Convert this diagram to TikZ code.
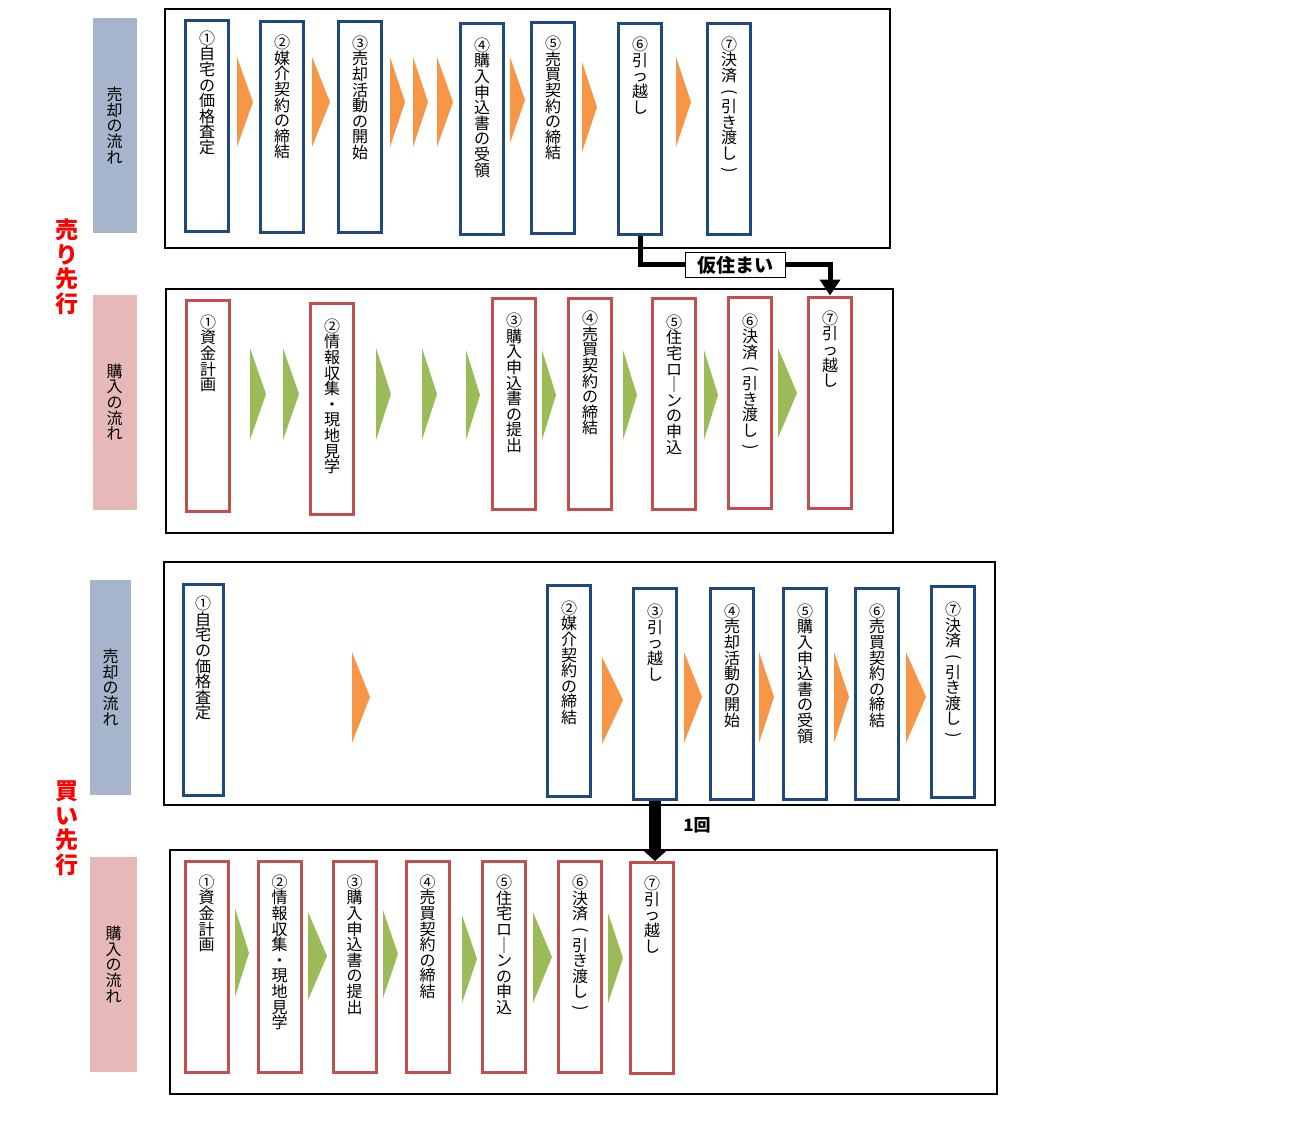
\documentclass[tikz,border=0pt]{standalone}
\usepackage{fontspec}
\setmainfont{Noto Sans CJK JP}
\usetikzlibrary{arrows.meta}
\definecolor{sellblue}{RGB}{31,73,125}
\definecolor{sellfill}{RGB}{166,181,204}
\definecolor{buyred}{RGB}{192,80,77}
\definecolor{buyfill}{RGB}{230,185,184}
\definecolor{chevorange}{RGB}{247,150,70}
\definecolor{chevgreen}{RGB}{155,187,89}
\newcommand{\vlparen}{\rotatebox[origin=c]{-90}{(}}
\newcommand{\vrparen}{\rotatebox[origin=c]{-90}{)}}
\lineskiplimit=-20pt

\begin{document}
\begin{tikzpicture}[x=1pt,y=-1pt,
    frame/.style={draw=black,line width=1.2pt},
    head/.style={minimum width=44pt,minimum height=215pt,inner sep=0pt,align=center,font=\fontsize{16}{15.6}\selectfont},
    sellbox/.style={draw=sellblue,fill=white,line width=3pt,minimum width=43pt,minimum height=211pt,inner sep=0pt},
    buybox/.style={draw=buyred,fill=white,line width=3pt,minimum width=43pt,minimum height=211pt,inner sep=0pt},
    steptext/.style={anchor=north,inner sep=0pt,align=center,font=\fontsize{16}{15.6}\selectfont},
    title/.style={text=red,align=center,inner sep=0pt,font=\bfseries\fontsize{23}{24.5}\selectfont}]
    \useasboundingbox (0,0) rectangle (1302,1136);

    %% titles
    \node[title] (urisaki) at (67,267) {売\\り\\先\\行};
    \node[title] (kaisaki) at (67,828) {買\\い\\先\\行};

    %% frames
    \draw[frame] (165,9) rectangle (890,248);
    \draw[frame] (166,289) rectangle (893,533);
    \draw[frame] (164,562) rectangle (995,805);
    \draw[frame] (170,850) rectangle (997,1094);

    %% row headers
    \node[head,fill=sellfill] (hA) at (114.5,125.5) {売\\却\\の\\流\\れ};
    \node[head,fill=buyfill] (hB) at (114.5,402) {購\\入\\の\\流\\れ};
    \node[head,fill=sellfill,minimum width=41pt] (hC) at (110.5,687.5) {売\\却\\の\\流\\れ};
    \node[head,fill=buyfill,minimum width=47pt] (hD) at (113.5,964.5) {購\\入\\の\\流\\れ};

    %% sell first: sale
    \node[sellbox] (a1) at (207,125.5) {};
    \node[sellbox] (a2) at (282,127) {};
    \node[sellbox] (a3) at (360,126.5) {};
    \node[sellbox] (a4) at (482,128.5) {};
    \node[sellbox] (a5) at (553,128) {};
    \node[sellbox] (a6) at (640,129) {};
    \node[sellbox] (a7) at (729,128.5) {};
    \node[steptext] (ta1) at ([yshift=-12pt]a1.north) {①\\自\\宅\\の\\価\\格\\査\\定};
    \node[steptext] (ta2) at ([yshift=-15pt]a2.north) {②\\媒\\介\\契\\約\\の\\締\\結};
    \node[steptext] (ta3) at ([yshift=-16pt]a3.north) {③\\売\\却\\活\\動\\の\\開\\始};
    \node[steptext] (ta4) at ([yshift=-16pt]a4.north) {④\\購\\入\\申\\込\\書\\の\\受\\領};
    \node[steptext] (ta5) at ([yshift=-15pt]a5.north) {⑤\\売\\買\\契\\約\\の\\締\\結};
    \node[steptext] (ta6) at ([yshift=-15pt]a6.north) {⑥\\引\\っ\\越\\し};
    \node[steptext] (ta7) at ([yshift=-15pt]a7.north) {⑦\\決\\済\\\vlparen\\引\\き\\渡\\し\\\vrparen};
    \fill[chevorange] (237,57) -- (253,102) -- (237,147) -- cycle;
    \fill[chevorange] (312,57) -- (330,102) -- (312,147) -- cycle;
    \fill[chevorange] (390,57) -- (405,102) -- (390,147) -- cycle;
    \fill[chevorange] (413,57) -- (428,102) -- (413,147) -- cycle;
    \fill[chevorange] (437,57) -- (453,102) -- (437,147) -- cycle;
    \fill[chevorange] (510,57) -- (525,100) -- (510,143) -- cycle;
    \fill[chevorange] (582,62) -- (597,107) -- (582,152) -- cycle;
    \fill[chevorange] (676,57) -- (691,102) -- (676,147) -- cycle;

    %% sell first: purchase
    \node[buybox] (b1) at (208,405.5) {};
    \node[buybox] (b2) at (332,408.5) {};
    \node[buybox] (b3) at (514,404) {};
    \node[buybox] (b4) at (590,404) {};
    \node[buybox] (b5) at (674,403.5) {};
    \node[buybox] (b6) at (750,402.5) {};
    \node[buybox] (b7) at (830,402.5) {};
    \node[steptext] (tb1) at ([yshift=-16pt]b1.north) {①\\資\\金\\計\\画};
    \node[steptext] (tb2) at ([yshift=-17pt]b2.north) {②\\情\\報\\収\\集\\・\\現\\地\\見\\学};
    \node[steptext] (tb3) at ([yshift=-16pt]b3.north) {③\\購\\入\\申\\込\\書\\の\\提\\出};
    \node[steptext] (tb4) at ([yshift=-14pt]b4.north) {④\\売\\買\\契\\約\\の\\締\\結};
    \node[steptext] (tb5) at ([yshift=-18pt]b5.north) {⑤\\住\\宅\\ロ\\｜\\ン\\の\\申\\込};
    \node[steptext] (tb6) at ([yshift=-18pt]b6.north) {⑥\\決\\済\\\vlparen\\引\\き\\渡\\し\\\vrparen};
    \node[steptext] (tb7) at ([yshift=-15pt]b7.north) {⑦\\引\\っ\\越\\し};
    \fill[chevgreen] (250,348) -- (266,394) -- (250,440) -- cycle;
    \fill[chevgreen] (283,348) -- (299,394) -- (283,440) -- cycle;
    \fill[chevgreen] (376,348) -- (391,394) -- (376,440) -- cycle;
    \fill[chevgreen] (422,348) -- (437,394) -- (422,440) -- cycle;
    \fill[chevgreen] (466,350) -- (480,395) -- (466,440) -- cycle;
    \fill[chevgreen] (542,350) -- (556,395) -- (542,440) -- cycle;
    \fill[chevgreen] (623,350) -- (637,395) -- (623,440) -- cycle;
    \fill[chevgreen] (704,350) -- (718,395) -- (704,440) -- cycle;
    \fill[chevgreen] (778,348) -- (797,393) -- (778,438) -- cycle;

    %% buy first: sale
    \node[sellbox,minimum width=40pt] (c1) at (203,690) {};
    \node[sellbox] (c2) at (569,690.5) {};
    \node[sellbox] (c3) at (655,694) {};
    \node[sellbox] (c4) at (732,693.5) {};
    \node[sellbox] (c5) at (805,693.5) {};
    \node[sellbox] (c6) at (877,693.5) {};
    \node[sellbox] (c7) at (953,692) {};
    \node[steptext] (tc1) at ([yshift=-13pt]c1.north) {①\\自\\宅\\の\\価\\格\\査\\定};
    \node[steptext] (tc2) at ([yshift=-17pt]c2.north) {②\\媒\\介\\契\\約\\の\\締\\結};
    \node[steptext] (tc3) at ([yshift=-17pt]c3.north) {③\\引\\っ\\越\\し};
    \node[steptext] (tc4) at ([yshift=-17pt]c4.north) {④\\売\\却\\活\\動\\の\\開\\始};
    \node[steptext] (tc5) at ([yshift=-17pt]c5.north) {⑤\\購\\入\\申\\込\\書\\の\\受\\領};
    \node[steptext] (tc6) at ([yshift=-17pt]c6.north) {⑥\\売\\買\\契\\約\\の\\締\\結};
    \node[steptext] (tc7) at ([yshift=-17pt]c7.north) {⑦\\決\\済\\\vlparen\\引\\き\\渡\\し\\\vrparen};
    \fill[chevorange] (352,652) -- (370,697) -- (352,743) -- cycle;
    \fill[chevorange] (602,657) -- (623,700) -- (602,744) -- cycle;
    \fill[chevorange] (684,652) -- (702,697) -- (684,743) -- cycle;
    \fill[chevorange] (759,652) -- (774,697) -- (759,743) -- cycle;
    \fill[chevorange] (834,652) -- (849,697) -- (834,743) -- cycle;
    \fill[chevorange] (906,652) -- (926,697) -- (906,743) -- cycle;

    %% buy first: purchase
    \node[buybox] (d1) at (206.5,966.5) {};
    \node[buybox] (d2) at (279.5,966.5) {};
    \node[buybox] (d3) at (354.5,966.5) {};
    \node[buybox] (d4) at (427.5,966.5) {};
    \node[buybox] (d5) at (504,967) {};
    \node[buybox] (d6) at (580,967) {};
    \node[buybox] (d7) at (652,968) {};
    \node[steptext] (td1) at ([yshift=-15pt]d1.north) {①\\資\\金\\計\\画};
    \node[steptext] (td2) at ([yshift=-15pt]d2.north) {②\\情\\報\\収\\集\\・\\現\\地\\見\\学};
    \node[steptext] (td3) at ([yshift=-15pt]d3.north) {③\\購\\入\\申\\込\\書\\の\\提\\出};
    \node[steptext] (td4) at ([yshift=-15pt]d4.north) {④\\売\\買\\契\\約\\の\\締\\結};
    \node[steptext] (td5) at ([yshift=-15pt]d5.north) {⑤\\住\\宅\\ロ\\｜\\ン\\の\\申\\込};
    \node[steptext] (td6) at ([yshift=-15pt]d6.north) {⑥\\決\\済\\\vlparen\\引\\き\\渡\\し\\\vrparen};
    \node[steptext] (td7) at ([yshift=-15pt]d7.north) {⑦\\引\\っ\\越\\し};
    \fill[chevgreen] (235,908) -- (249,953) -- (235,997) -- cycle;
    \fill[chevgreen] (308,912) -- (327,956) -- (308,1000) -- cycle;
    \fill[chevgreen] (383,910) -- (398,954) -- (383,998) -- cycle;
    \fill[chevgreen] (462,915) -- (477,959) -- (462,1003) -- cycle;
    \fill[chevgreen] (533,912) -- (552,957) -- (533,1003) -- cycle;
    \fill[chevgreen] (608,913) -- (623,958) -- (608,1003) -- cycle;

    %% connectors
    \draw[line width=5pt,-{Triangle[width=20pt,length=16pt]}] (a6.south) -- ++(0,28) -| (b7.north);
    \node[draw,fill=white,line width=0.8pt,minimum width=100pt,minimum height=25pt,inner sep=0pt,font=\bfseries\fontsize{19}{19}\selectfont] (kari) at (735,265) {仮住まい};
    \draw[line width=12pt,-{Triangle[width=24pt,length=11pt]}] (c3.south) -- (c3.south |- d7.north);
    \node[font=\bfseries\fontsize{17}{17}\selectfont] (ikkai) at (697,825) {1回};
\end{tikzpicture}
\end{document}
